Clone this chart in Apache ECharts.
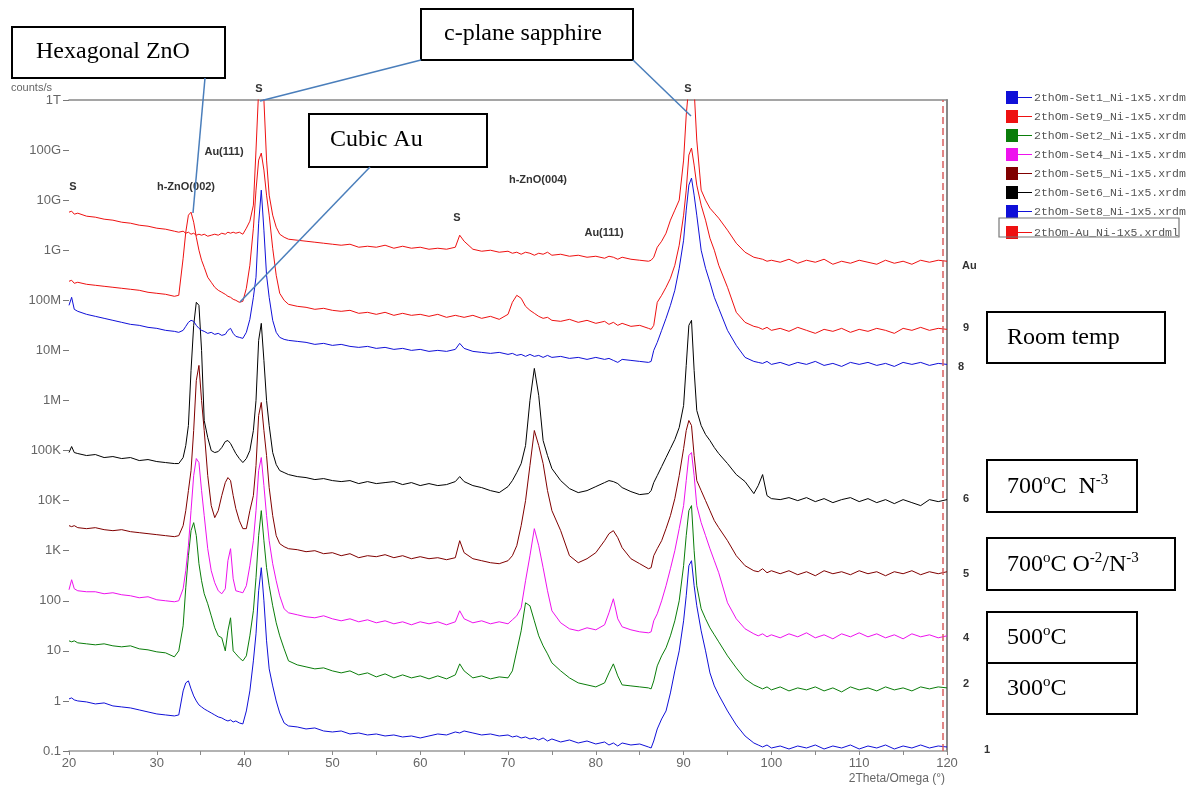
<!DOCTYPE html>
<html><head><meta charset="utf-8">
<script src="https://cdn.jsdelivr.net/npm/echarts/dist/echarts.min.js"></script>
<style>html,body{margin:0;padding:0;background:#fff}#c{width:1186px;height:791px}</style>
</head><body><div id="c"></div>
<script>
// 2Theta/Omega positions (degrees) shared by all scans
const twoTheta = [
 20, 20.3, 20.6, 21, 22, 23, 24, 25, 26, 27, 28, 29, 30, 31, 32,
 32.5, 33, 33.3, 33.6, 33.9, 34.2, 34.5, 34.8, 35.1, 35.4, 35.8, 36.2, 36.6, 37, 37.4, 37.8, 38.1, 38.4, 38.7, 39, 39.4, 39.8, 40.2, 40.6, 41, 41.3, 41.6, 41.9, 42.2, 42.5, 42.8, 43.2, 43.6, 44, 44.5, 45,
 46, 47, 48, 49, 50, 51, 52, 53, 54, 55, 56, 57, 58, 59, 60, 61, 62, 63, 64,
 64.5, 65, 66, 67, 68, 69, 70, 70.5, 71, 71.5, 72, 72.5, 73, 73.5, 74, 74.5, 75,
 76, 77, 78, 79, 80, 81, 81.5, 82, 82.5, 83, 84, 85, 86,
 86.3, 86.6, 87, 87.5, 88, 88.5, 89, 89.5, 90, 90.3, 90.6, 90.9, 91.2, 91.5, 92, 92.5, 93, 93.5, 94,
 95, 96, 97, 98, 98.5, 99, 99.5, 100,
 101, 102, 103, 104, 105, 106, 107, 108, 109, 110, 111, 112, 113, 114, 115, 116, 117, 118, 119, 120
];

// Intensities as log10(counts/s)
const logSet1 = [
 0.04, 0.06, 0.02, 0.00, -0.02, -0.06, -0.04, -0.10, -0.12, -0.14, -0.18, -0.22, -0.26, -0.28, -0.30,
 -0.28, 0.20, 0.36, 0.40, 0.24, 0.10, 0.00, -0.08, -0.12, -0.16, -0.20, -0.24, -0.28, -0.32, -0.34, -0.38, -0.40, -0.38, -0.42, -0.40, -0.44, -0.46, -0.20, 0.20, 0.80, 1.34, 2.20, 2.66, 2.00, 1.20, 0.64, 0.30, 0.00, -0.24, -0.44, -0.50,
 -0.52, -0.56, -0.54, -0.60, -0.62, -0.60, -0.66, -0.64, -0.68, -0.66, -0.70, -0.68, -0.72, -0.70, -0.74, -0.70, -0.66, -0.68, -0.62,
 -0.64, -0.60, -0.64, -0.68, -0.66, -0.70, -0.68, -0.72, -0.70, -0.74, -0.72, -0.76, -0.74, -0.78, -0.74, -0.80, -0.76,
 -0.82, -0.78, -0.84, -0.80, -0.86, -0.82, -0.88, -0.84, -0.90, -0.84, -0.88, -0.86, -0.92,
 -0.94, -0.80, -0.56, -0.36, -0.20, 0.16, 0.60, 1.00, 1.60, 2.10, 2.70, 2.80, 2.30, 1.90, 1.40, 1.00, 0.56, 0.30, 0.12,
 -0.20, -0.48, -0.70, -0.84, -0.88, -0.92, -0.88, -0.94,
 -0.90, -0.96, -0.90, -0.94, -0.88, -0.96, -0.90, -0.94, -0.88, -0.96, -0.90, -0.94, -0.88, -0.96, -0.90, -0.94, -0.88, -0.94, -0.90, -0.92
];
const logSet2 = [
 1.20, 1.18, 1.20, 1.16, 1.14, 1.12, 1.14, 1.10, 1.08, 1.10, 1.04, 1.02, 0.98, 0.96, 0.88,
 1.00, 1.50, 2.26, 2.90, 3.40, 3.56, 3.30, 2.74, 2.40, 2.14, 1.94, 1.70, 1.46, 1.30, 1.26, 1.00, 1.40, 1.66, 1.00, 0.94, 0.86, 0.80, 0.90, 1.30, 1.80, 2.46, 3.30, 3.80, 3.20, 2.66, 2.30, 1.90, 1.56, 1.30, 1.04, 0.80,
 0.72, 0.68, 0.64, 0.66, 0.60, 0.56, 0.60, 0.52, 0.56, 0.48, 0.54, 0.46, 0.52, 0.46, 0.50, 0.44, 0.50, 0.44, 0.52,
 0.74, 0.60, 0.46, 0.50, 0.44, 0.48, 0.46, 0.60, 1.00, 1.40, 1.96, 1.90, 1.60, 1.30, 1.10, 0.94, 0.76,
 0.60, 0.46, 0.36, 0.32, 0.28, 0.36, 0.56, 0.74, 0.50, 0.32, 0.30, 0.28, 0.26,
 0.24, 0.40, 0.70, 0.90, 1.06, 1.30, 1.60, 2.00, 2.70, 3.30, 3.80, 3.90, 3.00, 2.30, 1.84, 1.64, 1.46, 1.32, 1.18,
 0.90, 0.66, 0.44, 0.32, 0.28, 0.24, 0.28, 0.22,
 0.28, 0.20, 0.26, 0.22, 0.28, 0.20, 0.26, 0.18, 0.28, 0.22, 0.26, 0.20, 0.28, 0.22, 0.26, 0.20, 0.28, 0.24, 0.28, 0.26
];
const logSet4 = [
 2.22, 2.42, 2.24, 2.20, 2.18, 2.18, 2.14, 2.16, 2.12, 2.10, 2.06, 2.08, 2.02, 2.00, 1.98,
 2.00, 2.24, 2.60, 3.10, 3.80, 4.50, 4.84, 4.76, 4.20, 3.70, 3.04, 2.60, 2.36, 2.20, 2.14, 2.24, 2.80, 3.04, 2.44, 2.20, 2.18, 2.16, 2.30, 2.70, 3.20, 3.80, 4.60, 4.86, 4.30, 3.70, 3.20, 2.74, 2.40, 2.10, 1.84, 1.76,
 1.72, 1.68, 1.66, 1.70, 1.64, 1.60, 1.64, 1.58, 1.62, 1.56, 1.60, 1.54, 1.58, 1.52, 1.58, 1.54, 1.58, 1.52, 1.58,
 1.80, 1.64, 1.56, 1.60, 1.54, 1.58, 1.54, 1.62, 1.70, 1.86, 2.40, 2.90, 3.44, 3.10, 2.66, 2.20, 1.80,
 1.56, 1.44, 1.40, 1.46, 1.42, 1.52, 1.76, 2.04, 1.64, 1.48, 1.42, 1.38, 1.36,
 1.38, 1.60, 1.74, 2.00, 2.30, 2.64, 3.00, 3.44, 3.90, 4.40, 4.90, 4.96, 4.50, 3.90, 3.56, 3.30, 3.04, 2.80, 2.56,
 1.96, 1.64, 1.44, 1.34, 1.30, 1.34, 1.28, 1.32,
 1.26, 1.34, 1.28, 1.36, 1.26, 1.32, 1.24, 1.34, 1.28, 1.36, 1.28, 1.34, 1.26, 1.32, 1.24, 1.34, 1.28, 1.32, 1.26, 1.30
];
const logSet5 = [
 3.50, 3.48, 3.50, 3.46, 3.44, 3.46, 3.42, 3.40, 3.42, 3.38, 3.36, 3.34, 3.32, 3.30, 3.28,
 3.30, 3.50, 3.80, 4.20, 4.60, 5.40, 6.40, 6.70, 6.00, 5.40, 4.50, 3.90, 3.66, 3.80, 4.10, 4.36, 4.46, 4.40, 4.10, 3.84, 3.60, 3.44, 3.44, 3.80, 4.10, 4.70, 5.70, 5.96, 5.40, 4.90, 4.26, 3.70, 3.30, 3.14, 3.08, 3.04,
 3.02, 2.98, 3.00, 2.94, 2.96, 2.90, 2.94, 2.86, 2.90, 2.88, 2.92, 2.86, 2.90, 2.84, 2.88, 2.84, 2.86, 2.82, 2.86,
 3.20, 2.96, 2.84, 2.80, 2.76, 2.74, 2.80, 2.90, 3.10, 3.50, 4.00, 4.70, 5.40, 5.10, 4.74, 4.20, 3.80,
 3.40, 2.90, 2.76, 2.84, 2.96, 3.20, 3.34, 3.40, 3.26, 3.06, 2.84, 2.74, 2.64,
 2.66, 2.90, 3.04, 3.20, 3.44, 3.70, 4.04, 4.50, 5.04, 5.40, 5.60, 5.50, 4.90, 4.40, 4.20, 4.00, 3.80, 3.60, 3.46,
 3.20, 2.90, 2.70, 2.60, 2.58, 2.64, 2.56, 2.60,
 2.54, 2.60, 2.52, 2.58, 2.50, 2.60, 2.54, 2.58, 2.52, 2.60, 2.54, 2.58, 2.50, 2.58, 2.54, 2.60, 2.52, 2.58, 2.54, 2.58
];
const logSet6 = [
 4.96, 5.08, 4.96, 4.94, 4.90, 4.92, 4.86, 4.88, 4.84, 4.86, 4.80, 4.82, 4.78, 4.76, 4.74,
 4.74, 4.86, 5.10, 5.50, 6.60, 7.50, 7.96, 7.90, 7.00, 5.60, 5.26, 5.00, 4.96, 4.98, 5.06, 5.18, 5.20, 5.14, 5.04, 4.94, 4.84, 4.76, 4.84, 5.00, 5.40, 6.00, 7.20, 7.54, 6.80, 6.00, 5.50, 4.96, 4.72, 4.60, 4.56, 4.52,
 4.48, 4.46, 4.42, 4.44, 4.40, 4.38, 4.40, 4.34, 4.38, 4.34, 4.36, 4.38, 4.32, 4.36, 4.30, 4.34, 4.30, 4.32, 4.38,
 4.48, 4.38, 4.30, 4.26, 4.20, 4.16, 4.28, 4.40, 4.56, 4.74, 5.10, 6.00, 6.64, 6.10, 5.20, 4.90, 4.64,
 4.40, 4.24, 4.16, 4.20, 4.28, 4.36, 4.40, 4.38, 4.34, 4.26, 4.18, 4.12, 4.14,
 4.20, 4.36, 4.50, 4.68, 4.86, 5.04, 5.22, 5.46, 5.90, 6.70, 7.50, 7.60, 6.60, 5.80, 5.50, 5.32, 5.20, 5.06, 4.94,
 4.74, 4.52, 4.38, 4.14, 4.30, 4.52, 4.10, 4.04,
 4.02, 4.06, 4.00, 4.06, 3.98, 4.04, 3.96, 4.02, 4.06, 3.98, 4.04, 3.96, 4.02, 3.94, 4.02, 3.96, 3.90, 4.02, 3.98, 4.02
];
const logSet8 = [
 7.90, 8.06, 7.82, 7.78, 7.72, 7.68, 7.64, 7.60, 7.56, 7.52, 7.50, 7.46, 7.44, 7.40, 7.38,
 7.36, 7.40, 7.48, 7.56, 7.60, 7.58, 7.50, 7.44, 7.40, 7.38, 7.34, 7.36, 7.32, 7.34, 7.30, 7.32, 7.40, 7.44, 7.34, 7.28, 7.26, 7.24, 7.36, 7.62, 8.06, 8.46, 9.54, 10.2, 9.40, 8.50, 8.06, 7.60, 7.36, 7.26, 7.22, 7.20,
 7.18, 7.16, 7.12, 7.14, 7.10, 7.12, 7.08, 7.06, 7.08, 7.04, 7.06, 7.02, 7.04, 7.00, 7.02, 6.98, 7.00, 6.98, 7.02,
 7.14, 7.04, 6.98, 6.96, 6.94, 6.96, 6.92, 6.94, 6.90, 6.92, 6.88, 6.92, 6.88, 6.90, 6.86, 6.90, 6.86,
 6.88, 6.84, 6.86, 6.82, 6.86, 6.82, 6.84, 6.80, 6.76, 6.82, 6.80, 6.78, 6.76,
 6.78, 7.00, 7.16, 7.40, 7.64, 7.90, 8.20, 8.64, 9.20, 9.80, 10.3, 10.44, 10.1, 9.70, 9.00, 8.64, 8.36, 8.06, 7.84,
 7.40, 7.10, 6.86, 6.78, 6.76, 6.74, 6.78, 6.72,
 6.76, 6.70, 6.76, 6.72, 6.78, 6.70, 6.74, 6.68, 6.76, 6.72, 6.76, 6.70, 6.74, 6.68, 6.76, 6.72, 6.76, 6.70, 6.74, 6.72
];
const logSet9 = [
 8.38, 8.40, 8.34, 8.36, 8.32, 8.30, 8.28, 8.26, 8.24, 8.22, 8.20, 8.16, 8.14, 8.12, 8.08,
 8.10, 8.84, 9.36, 9.70, 9.76, 9.56, 9.26, 9.00, 8.80, 8.66, 8.46, 8.36, 8.26, 8.20, 8.16, 8.12, 8.08, 8.06, 8.02, 8.00, 7.96, 7.98, 8.24, 8.70, 9.44, 10.2, 10.8, 10.94, 10.6, 10.1, 9.70, 9.04, 8.50, 8.14, 8.00, 7.92,
 7.88, 7.86, 7.82, 7.84, 7.80, 7.78, 7.80, 7.74, 7.76, 7.72, 7.76, 7.70, 7.74, 7.70, 7.72, 7.68, 7.72, 7.66, 7.70,
 7.68, 7.66, 7.70, 7.64, 7.68, 7.62, 7.72, 7.96, 8.10, 8.04, 7.88, 7.80, 7.74, 7.68, 7.64, 7.66, 7.60,
 7.58, 7.62, 7.56, 7.60, 7.54, 7.58, 7.52, 7.56, 7.50, 7.54, 7.48, 7.50, 7.44,
 7.42, 7.50, 7.96, 8.10, 8.26, 8.44, 8.70, 9.10, 9.70, 10.2, 10.9, 11.04, 10.7, 10.3, 9.90, 9.60, 9.24, 9.00, 8.70,
 8.26, 7.76, 7.56, 7.48, 7.46, 7.42, 7.46, 7.40,
 7.44, 7.38, 7.46, 7.40, 7.34, 7.42, 7.38, 7.44, 7.36, 7.42, 7.38, 7.44, 7.40, 7.34, 7.44, 7.40, 7.46, 7.40, 7.44, 7.42
];
const logAu = [
 9.76, 9.78, 9.72, 9.74, 9.68, 9.66, 9.62, 9.60, 9.56, 9.54, 9.50, 9.48, 9.44, 9.42, 9.38,
 9.36, 9.38, 9.34, 9.36, 9.32, 9.34, 9.30, 9.32, 9.30, 9.32, 9.28, 9.30, 9.32, 9.30, 9.34, 9.32, 9.36, 9.34, 9.36, 9.34, 9.36, 9.32, 9.44, 9.58, 9.90, 11.0, 12.2, 12.3, 12.0, 10.8, 10.1, 9.70, 9.46, 9.32, 9.26, 9.22,
 9.20, 9.18, 9.16, 9.14, 9.12, 9.10, 9.12, 9.06, 9.08, 9.06, 9.10, 9.04, 9.08, 9.04, 9.06, 9.02, 9.04, 9.02, 9.06,
 9.30, 9.18, 9.02, 8.98, 9.00, 8.96, 8.98, 8.94, 8.96, 8.92, 8.96, 8.94, 8.90, 8.94, 8.92, 8.96, 8.90,
 8.92, 8.88, 8.90, 8.86, 8.88, 8.84, 8.88, 8.86, 8.82, 8.86, 8.82, 8.80, 8.78,
 8.80, 8.86, 9.06, 9.18, 9.34, 9.60, 9.80, 10.0, 10.8, 11.7, 12.3, 12.3, 12.2, 11.2, 10.2, 10.0, 9.84, 9.74, 9.64,
 9.40, 9.14, 8.96, 8.86, 8.84, 8.82, 8.78, 8.80,
 8.76, 8.82, 8.74, 8.80, 8.76, 8.82, 8.72, 8.78, 8.74, 8.80, 8.76, 8.72, 8.80, 8.74, 8.78, 8.72, 8.80, 8.76, 8.80, 8.78
];

const seriesNames = [
 '2thOm-Set1_Ni-1x5.xrdml', '2thOm-Set9_Ni-1x5.xrdml', '2thOm-Set2_Ni-1x5.xrdml', '2thOm-Set4_Ni-1x5.xrdml',
 '2thOm-Set5_Ni-1x5.xrdml', '2thOm-Set6_Ni-1x5.xrdml', '2thOm-Set8_Ni-1x5.xrdml', '2thOm-Au_Ni-1x5.xrdml'
];
const seriesLogs = [logSet1, logSet9, logSet2, logSet4, logSet5, logSet6, logSet8, logAu];
const seriesColors = ['#1010d8', '#ee1111', '#0a7d0a', '#ee11ee', '#800000', '#000000', '#1010d8', '#ee1111'];
const curveLabels = ['1', '9', '2', '4', '5', '6', '8', 'Au'];
const yTickLabels = ['0.1', '1', '10', '100', '1K', '10K', '100K', '1M', '10M', '100M', '1G', '10G', '100G', '1T'];
const cutoffTheta = 119.5;

const chart = echarts.init(document.getElementById('c'), null, {renderer: 'canvas'});

const series = seriesNames.map((name, k) => ({
  name, type: 'line', symbol: 'none', smooth: false, clip: true,
  xAxisIndex: 0, yAxisIndex: 0,
  data: twoTheta.map((x, i) => [x, seriesLogs[k][i]]),
  lineStyle: {width: 1, color: seriesColors[k]},
  itemStyle: {color: seriesColors[k]},
  z: 3,
  markLine: name === seriesNames[7] ? {
    silent: true, symbol: ['none', 'none'], label: {show: false},
    lineStyle: {color: '#d95f5f', type: [7, 4], width: 1.5},
    data: [{xAxis: cutoffTheta}]
  } : undefined
}));

const SERIF = '"Liberation Serif", "Times New Roman", serif';
const SANS = '"Liberation Sans", Arial, sans-serif';
const BLUE = '#4a7ebb';

function box(x, y, w, h) {
  return {type: 'rect', z: 50, shape: {x, y, width: w, height: h}, style: {fill: '#fff', stroke: '#000', lineWidth: 2}};
}
function seg(x1, y1, x2, y2) {
  return {type: 'line', z: 60, shape: {x1, y1, x2, y2}, style: {stroke: BLUE, lineWidth: 1.5}};
}
function plainText(text, x, y, font, fill, align) {
  return {type: 'text', z: 55, x, y, style: {text, font, fill: fill || '#000', textAlign: align || 'left', textVerticalAlign: 'middle', align: align || 'left', verticalAlign: 'middle'}};
}
const richStyle = {
  t: {fontFamily: SERIF, fontSize: 24, lineHeight: 28, fill: '#000', color: '#000'},
  s: {fontFamily: SERIF, fontSize: 15, lineHeight: 15, verticalAlign: 'top', fill: '#000', color: '#000'}
};
function richText(text, x, y) {
  return {type: 'text', z: 55, x, y, style: {text, rich: richStyle, textVerticalAlign: 'middle', verticalAlign: 'middle', textAlign: 'left', align: 'left'}};
}

const graphics = [
  // pointer lines
  seg(205, 78, 193, 213),
  seg(421, 60, 260, 101),
  seg(633, 60, 691, 116),
  seg(370, 167, 240, 302),
  // annotation boxes
  box(12, 27, 213, 51), plainText('Hexagonal ZnO', 36, 52, '24px ' + SERIF),
  box(421, 9, 212, 51), plainText('c-plane sapphire', 444, 34, '24px ' + SERIF),
  box(309, 114, 178, 53), plainText('Cubic Au', 330, 140, '24px ' + SERIF),
  box(987, 312, 178, 51), plainText('Room temp', 1007, 338, '24px ' + SERIF),
  box(987, 460, 150, 52), richText('{t|700}{s|o}{t|C  N}{s|-3}', 1007, 487),
  box(987, 538, 188, 52), richText('{t|700}{s|o}{t|C O}{s|-2}{t|/N}{s|-3}', 1007, 565),
  box(987, 612, 150, 51), richText('{t|500}{s|o}{t|C}', 1007, 638),
  box(987, 663, 150, 51), richText('{t|300}{s|o}{t|C}', 1007, 689),
  // legend frame around last item
  {type: 'rect', z: 40, shape: {x: 999, y: 218, width: 180, height: 19}, style: {fill: 'none', stroke: '#777', lineWidth: 1.2}},
  // axis texts
  plainText('counts/s', 11, 88, '11px ' + SANS, '#666'),
  plainText('2Theta/Omega (°)', 945, 779, '12px ' + SANS, '#666', 'right'),
  // peak labels
  plainText('S', 73, 187, 'bold 11px ' + SANS, '#333', 'center'),
  plainText('h-ZnO(002)', 186, 187, 'bold 11px ' + SANS, '#333', 'center'),
  plainText('Au(111)', 224, 152, 'bold 11px ' + SANS, '#333', 'center'),
  plainText('S', 259, 89, 'bold 11px ' + SANS, '#333', 'center'),
  plainText('S', 688, 89, 'bold 11px ' + SANS, '#333', 'center'),
  plainText('S', 457, 218, 'bold 11px ' + SANS, '#333', 'center'),
  plainText('h-ZnO(004)', 538, 180, 'bold 11px ' + SANS, '#333', 'center'),
  plainText('Au(111)', 604, 233, 'bold 11px ' + SANS, '#333', 'center'),
  // curve numbers at the right end
  plainText(curveLabels[7], 962, 266, 'bold 11px ' + SANS, '#333'),
  plainText(curveLabels[1], 963, 328, 'bold 11px ' + SANS, '#333'),
  plainText(curveLabels[6], 958, 367, 'bold 11px ' + SANS, '#333'),
  plainText(curveLabels[5], 963, 499, 'bold 11px ' + SANS, '#333'),
  plainText(curveLabels[4], 963, 574, 'bold 11px ' + SANS, '#333'),
  plainText(curveLabels[3], 963, 638, 'bold 11px ' + SANS, '#333'),
  plainText(curveLabels[2], 963, 684, 'bold 11px ' + SANS, '#333'),
  plainText(curveLabels[0], 984, 750, 'bold 11px ' + SANS, '#333')
];

const legendCommon = {
  orient: 'vertical', left: 1001, itemWidth: 26, itemHeight: 13, itemGap: 6,
  icon: 'path://M0,0H12V13H0Z M12,6H26V7H12Z', selectedMode: false,
  textStyle: {fontFamily: '"Liberation Mono", "DejaVu Sans Mono", monospace', fontSize: 11.5, color: '#555', padding: [0, 0, 0, -3]}
};

chart.setOption({
  animation: false,
  backgroundColor: '#fff',
  grid: {left: 69, right: 239, top: 100, bottom: 40, containLabel: false},
  legend: [
    Object.assign({}, legendCommon, {top: 86, data: seriesNames.slice(0, 7)}),
    Object.assign({}, legendCommon, {top: 221, data: [seriesNames[7]]})
  ],
  xAxis: [{
    type: 'value', min: 20, max: 120, interval: 10, position: 'bottom',
    axisLine: {show: true, onZero: false, lineStyle: {color: '#999', width: 1.5}},
    axisTick: {show: true, length: 4, lineStyle: {color: '#888'}},
    minorTick: {show: true, splitNumber: 2, length: 4, lineStyle: {color: '#888'}},
    axisLabel: {color: '#666', fontFamily: SANS, fontSize: 13, margin: 6},
    splitLine: {show: false}
  }, {
    type: 'value', min: 20, max: 120, position: 'top',
    axisLine: {show: true, onZero: false, lineStyle: {color: '#888', width: 1.5}},
    axisTick: {show: false}, axisLabel: {show: false}, splitLine: {show: false}
  }],
  yAxis: [{
    type: 'value', min: -1, max: 12, interval: 1, position: 'left',
    axisLine: {show: false, onZero: false},
    axisTick: {show: true, length: 6, lineStyle: {color: '#777'}},
    axisLabel: {color: '#666', fontFamily: SANS, fontSize: 13, margin: 8,
      formatter: v => yTickLabels[Math.round(v) + 1]},
    splitLine: {show: false}
  }, {
    type: 'value', min: -1, max: 12, position: 'right',
    axisLine: {show: true, onZero: false, lineStyle: {color: '#888', width: 2}},
    axisTick: {show: false}, axisLabel: {show: false}, splitLine: {show: false}
  }],
  series,
  graphic: graphics
});
</script>
</body></html>
